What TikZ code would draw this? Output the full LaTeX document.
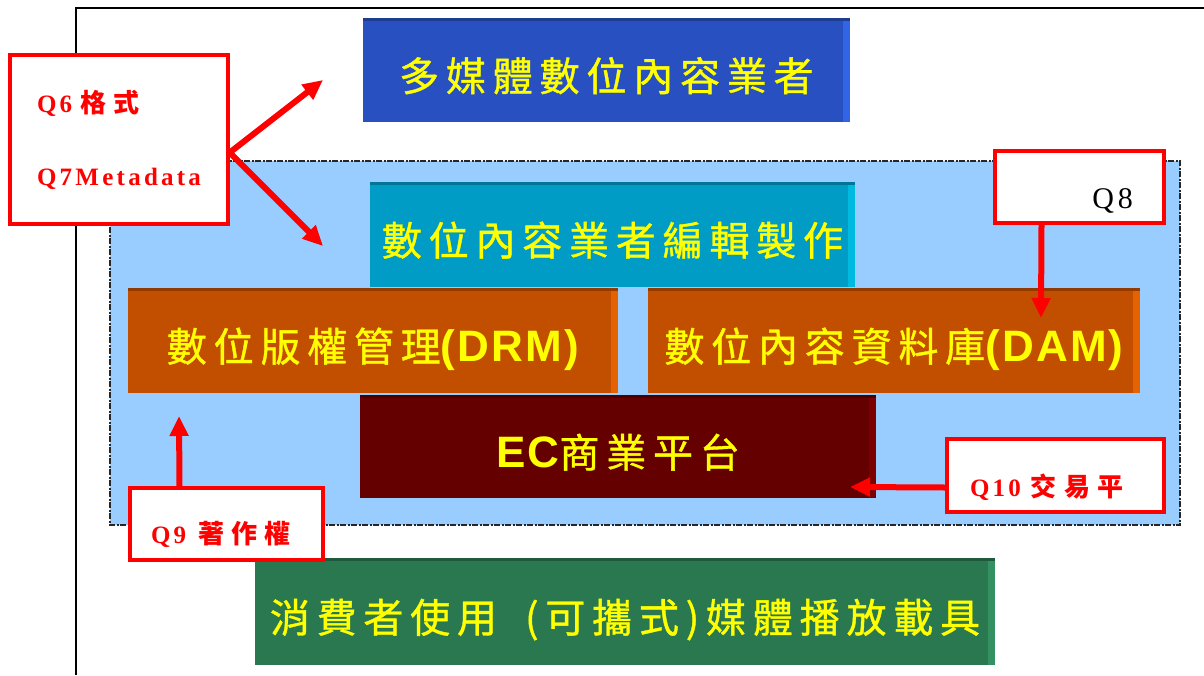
\documentclass[tikz,border=0pt]{standalone}
\usepackage{fontspec}
\setmainfont{Liberation Serif}
\newfontfamily\boxfont[LetterSpace=17, FakeBold=1]{Noto Sans CJK TC}
\newfontfamily\boxlatin[LetterSpace=5]{Liberation Sans}
\newfontfamily\qfont[LetterSpace=13]{Liberation Serif}
\newfontfamily\qcjk[LetterSpace=28]{Noto Sans CJK TC}
\usetikzlibrary{arrows.meta, positioning}
\definecolor{mblue}{RGB}{40,80,192}
\definecolor{mblueside}{RGB}{50,100,230}
\definecolor{eteal}{RGB}{0,156,198}
\definecolor{etealside}{RGB}{0,185,225}
\definecolor{rorange}{RGB}{194,78,0}
\definecolor{rorangeside}{RGB}{228,98,0}
\definecolor{ecred}{RGB}{100,0,0}
\definecolor{ecredside}{RGB}{125,0,0}
\definecolor{pgreen}{RGB}{42,120,80}
\definecolor{pgreenside}{RGB}{52,145,98}
\definecolor{zone}{RGB}{153,204,255}
\definecolor{qred}{RGB}{255,0,0}
\definecolor{slabtext}{RGB}{255,255,0}

\begin{document}
\begin{tikzpicture}[x=1pt, y=-1pt, >={Triangle[length=20pt,width=18pt]},
    slab/.style 2 args={fill=#1, text=slabtext, inner sep=0pt, text height=42pt, text depth=0pt,
        font=\boxfont\fontsize{40}{42}\selectfont,
        path picture={
            \fill[#2] ([xshift=-7pt]path picture bounding box.north east) rectangle (path picture bounding box.south east);
            \fill[#1!75!black] (path picture bounding box.north west) rectangle ([yshift=-3pt]path picture bounding box.north east);}},
    callout/.style={draw=qred, line width=3.5pt, fill=white, inner sep=0pt},
    qtext/.style={text=qred, font=\fontsize{25}{28}\selectfont},
    link/.style={->, draw=qred, line width=6pt}
]
    \fill[white] (0,0) rectangle (1204,675);
    \useasboundingbox (0,0) rectangle (1204,675);
    \draw[line width=2pt] (76,675) -- (76,8) -- (1204,8);
    % dashed zone behind the middle layers
    \draw[fill=zone, draw=black!85, line width=2pt, dash pattern=on 6pt off 1.5pt on 2pt off 1.5pt] (110,161) rectangle (1180,525);

    \node[slab={mblue}{mblueside}, minimum width=487pt, minimum height=104pt] (media) at (606.5,70) {多媒體數位內容業者};
    \node[slab={eteal}{etealside}, minimum width=485pt, minimum height=105pt] (edit) at (612.5,234.5) {數位內容業者編輯製作};
    \node[slab={rorange}{rorangeside}, minimum width=490pt, minimum height=105pt] (drm) at (373,340.5) {數位版權管理{\boxlatin\fontsize{44}{42}\selectfont\bfseries(DRM)}};
    \node[slab={rorange}{rorangeside}, minimum width=492pt, minimum height=105pt] (dam) at (894,340.5) {數位內容資料庫{\boxlatin\fontsize{44}{42}\selectfont\bfseries(DAM)}};
    \node[slab={ecred}{ecredside}, minimum width=516pt, minimum height=103pt] (ec) at (618,446.5) {{\boxlatin\fontsize{44}{42}\selectfont\bfseries EC}商業平台};
    \node[slab={pgreen}{pgreenside}, minimum width=740pt, minimum height=107pt] (player) at (625,611.5) {消費者使用\hspace{28pt}(可攜式)媒體播放載具};

    \node[callout, qtext, minimum width=218pt, minimum height=169pt, align=left, font=\fontsize{25}{73}\selectfont] (q67) at (119,139.5)
        {{\qfont\bfseries Q6}\hspace{8pt}{\qcjk\fontsize{26}{73}\selectfont\bfseries 格式}\\{\qfont\bfseries Q7Metadata}};
    \node[callout, minimum width=169pt, minimum height=72pt, text width=107pt, align=right, text height=42pt, text depth=0pt, font=\fontsize{30}{32}\selectfont] (q8) at (1079.5,187) {\qfont Q8};
    \node[callout, qtext, minimum width=193pt, minimum height=72pt, text width=151pt, align=left, text height=38pt, text depth=0pt] (q9) at (226.5,524)
        {{\qfont\bfseries Q9}\hspace{12pt}{\qcjk\fontsize{26}{28}\selectfont\bfseries 著作權}};
    \node[callout, qtext, minimum width=217pt, minimum height=73pt, text width=171pt, align=left, text height=41pt, text depth=0pt] (q10) at (1055.5,475.5)
        {{\qfont\bfseries Q10}\hspace{10pt}{\qcjk\fontsize{26}{28}\selectfont\bfseries 交易平}};

    \coordinate (t6) at (323,80);
    \coordinate (t7) at (323,246);
    \coordinate (t8) at (1041,318);
    \coordinate (t9) at (179,416);
    \coordinate (t10) at (850,487);
    \draw[link] ([yshift=-13pt]q67.east) -- (t6);
    \draw[link] ([yshift=-13pt]q67.east) -- (t7);
    \draw[link] ([xshift=-38pt]q8.south) -- (t8);
    \draw[link] ([xshift=-47pt]q9.north) -- (t9);
    \draw[link] ([yshift=-12pt]q10.west) -- (t10);
\end{tikzpicture}
\end{document}
